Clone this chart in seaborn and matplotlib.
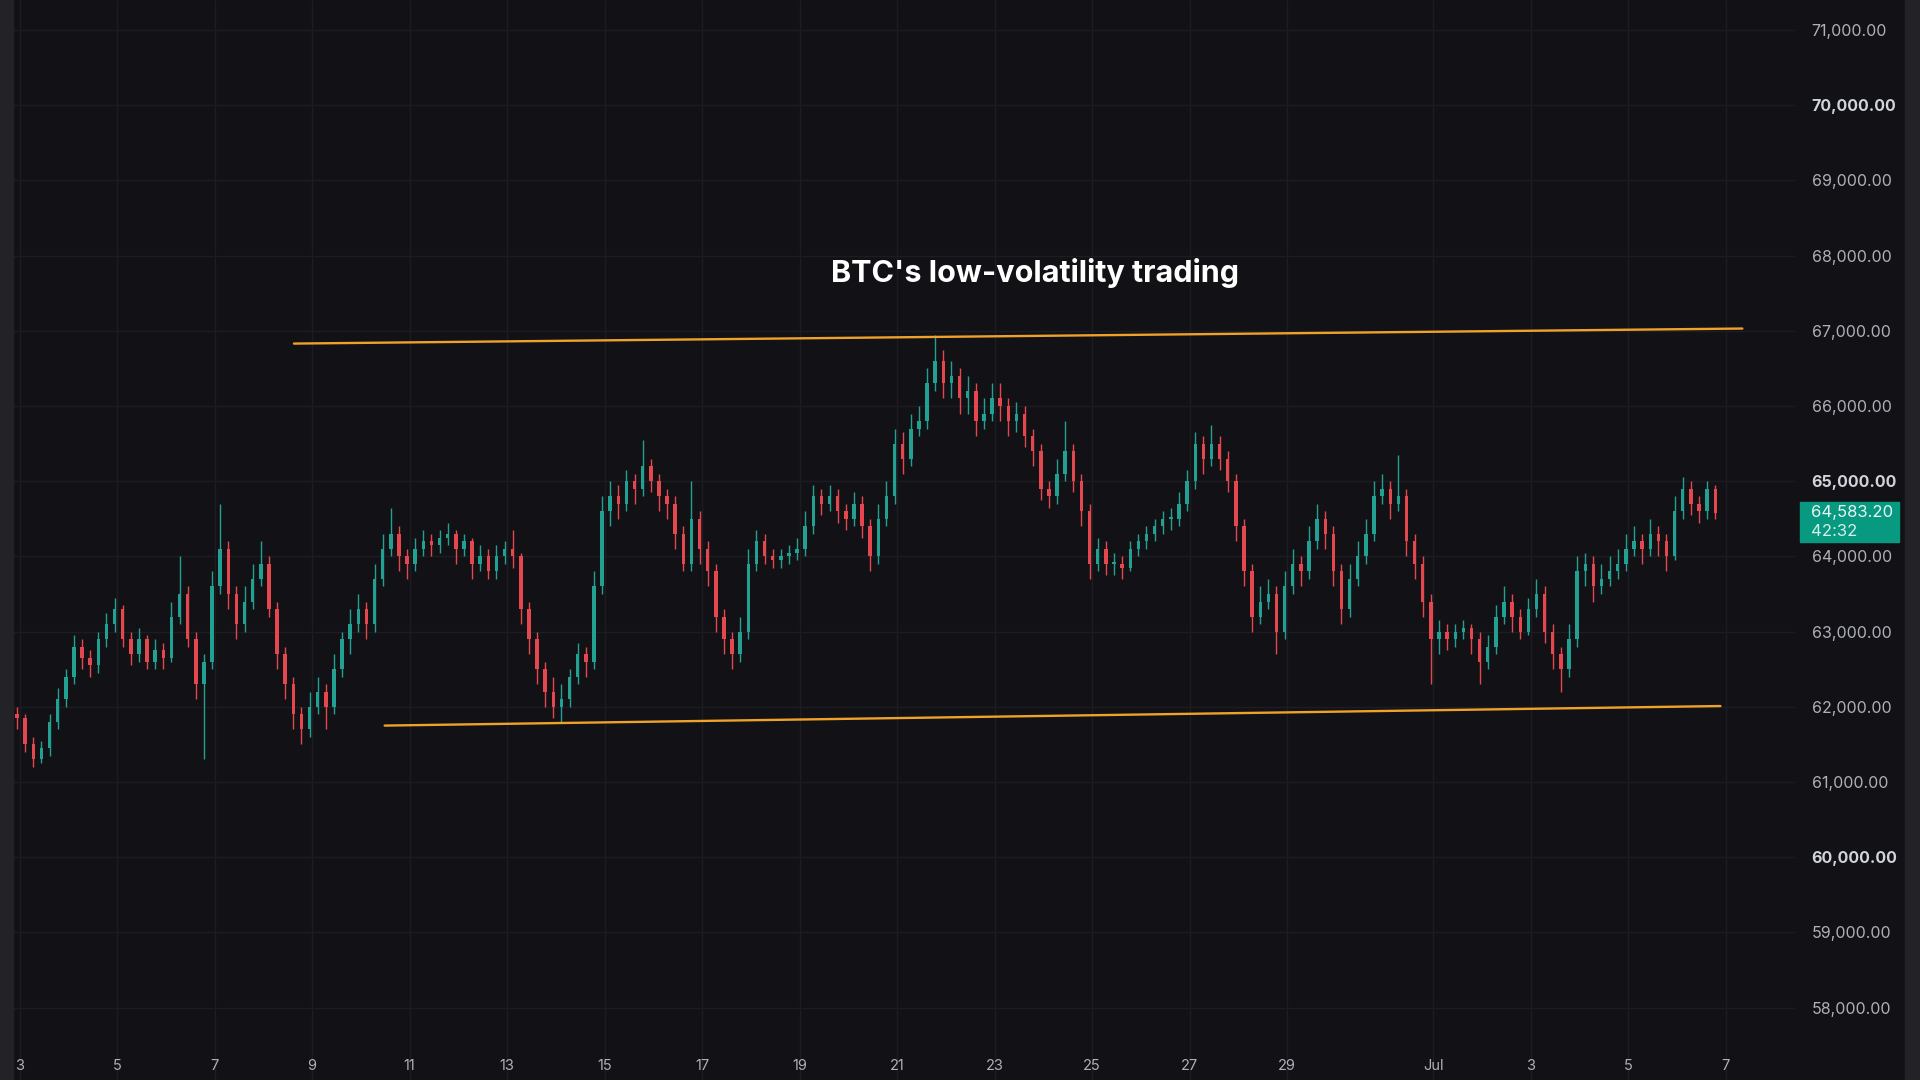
import numpy as np
import pandas as pd
import matplotlib
matplotlib.use("Agg")
import matplotlib.pyplot as plt
import seaborn as sns
from matplotlib.patches import Rectangle

# 4-hour BTC candles (open = previous close)
first_open = 61900
close = [61850, 61500, 61300, 61450, 61800, 62100, 62400, 62800, 62650, 62550,
         62900, 63100, 63300, 62900, 62700, 62900, 62600, 62750, 62650, 63200,
         63500, 62900, 62300, 62600, 63600, 64100, 63500, 63100, 63400, 63700,
         63900, 63300, 62700, 62300, 61900, 61700, 62000, 62200, 62000, 62500,
         62900, 63100, 63300, 63100, 63700, 64100, 64300, 64000, 63900, 64100,
         64200, 64150, 64250, 64300, 64100, 64200, 63900, 64000, 63800, 64000,
         64100, 64000, 63300, 62900, 62500, 62200, 62000, 62100, 62400, 62700,
         62600, 63600, 64600, 64800, 64700, 65000, 64900, 65200, 65000, 64800,
         64700, 64300, 63900, 64500, 64100, 63800, 63200, 62900, 62700, 63000,
         63900, 64200, 64000, 63950, 64000, 64050, 64100, 64400, 64800, 64700,
         64800, 64600, 64500, 64700, 64400, 64000, 64500, 64800, 65500, 65300,
         65700, 65800, 66300, 66600, 66300, 66400, 66100, 66200, 65800, 65900,
         66100, 66000, 65800, 65900, 65600, 65400, 64900, 64800, 65100, 65400,
         65000, 64600, 63900, 64100, 63900, 63900, 63850, 64100, 64200, 64300,
         64400, 64500, 64500, 64700, 65000, 65500, 65300, 65500, 65300, 65000,
         64400, 63800, 63200, 63400, 63500, 63000, 63600, 63900, 63800, 64200,
         64500, 64300, 63800, 63300, 63700, 64000, 64300, 64800, 64900, 64700,
         64800, 64200, 63900, 63400, 62900, 63000, 62900, 63000, 63050, 62900,
         62600, 62800, 63200, 63400, 63200, 63000, 63300, 63500, 63000, 62700,
         62500, 62900, 63800, 63900, 63600, 63700, 63800, 63900, 64100, 64200,
         64100, 64300, 64200, 64000, 64600, 64900, 64700, 64600, 64900, 64583.2]
high = [62000, 61900, 61600, 61550, 61900, 62250, 62500, 62950, 62900, 62750,
        63000, 63250, 63450, 63350, 63000, 63050, 62950, 62900, 62850, 63400,
        64000, 63600, 63000, 62700, 63800, 64700, 64200, 63600, 63600, 63900,
        64200, 64000, 63400, 62800, 62400, 62000, 62200, 62400, 62300, 62700,
        63000, 63300, 63500, 63400, 63900, 64300, 64650, 64400, 64100, 64250,
        64350, 64300, 64350, 64450, 64350, 64300, 64250, 64150, 64100, 64150,
        64200, 64350, 64050, 63400, 63000, 62600, 62400, 62300, 62500, 62850,
        62800, 63800, 64800, 65000, 64950, 65150, 65100, 65550, 65300, 65100,
        64900, 64800, 64400, 65000, 64600, 64200, 63900, 63300, 63000, 63200,
        64100, 64350, 64300, 64100, 64100, 64150, 64250, 64600, 64950, 64900,
        64950, 64900, 64700, 64850, 64800, 64500, 64700, 65000, 65700, 65650,
        65900, 66000, 66500, 66950, 66750, 66600, 66500, 66400, 66300, 66100,
        66300, 66300, 66100, 66050, 66000, 65700, 65500, 65000, 65300, 65800,
        65500, 65100, 64700, 64250, 64200, 64050, 64000, 64200, 64300, 64400,
        64500, 64600, 64650, 64850, 65150, 65650, 65600, 65750, 65600, 65400,
        65100, 64500, 63900, 63600, 63700, 63600, 63800, 64100, 64000, 64400,
        64700, 64600, 64400, 63900, 63900, 64200, 64500, 65000, 65100, 65000,
        65350, 64900, 64300, 64000, 63500, 63150, 63100, 63100, 63150, 63100,
        63000, 62950, 63350, 63600, 63500, 63300, 63450, 63700, 63600, 63100,
        62800, 63100, 64000, 64050, 64000, 63900, 64000, 64100, 64300, 64400,
        64300, 64500, 64400, 64300, 64800, 65050, 65000, 64800, 65000, 64950]
low = [61700, 61400, 61200, 61250, 61350, 61700, 62000, 62300, 62500, 62400,
       62450, 62800, 63000, 62800, 62550, 62600, 62500, 62500, 62500, 62600,
       63100, 62800, 62100, 61300, 62500, 63500, 63300, 62900, 63000, 63300,
       63600, 63200, 62500, 62100, 61700, 61500, 61600, 61900, 61700, 61900,
       62400, 62700, 63000, 62900, 63000, 63600, 64000, 63800, 63700, 63800,
       64000, 64000, 64050, 64150, 63900, 64000, 63700, 63800, 63700, 63700,
       63900, 63850, 63100, 62700, 62300, 62000, 61850, 61800, 62000, 62300,
       62400, 62500, 63500, 64400, 64500, 64600, 64700, 64800, 64850, 64600,
       64500, 64100, 63800, 63800, 63900, 63600, 63000, 62700, 62500, 62600,
       62900, 63800, 63900, 63850, 63850, 63900, 63950, 64000, 64300, 64550,
       64600, 64450, 64350, 64400, 64250, 63800, 63900, 64400, 64700, 65100,
       65200, 65600, 65700, 66200, 66100, 66100, 65900, 65900, 65600, 65700,
       65800, 65800, 65600, 65650, 65450, 65200, 64750, 64650, 64700, 65000,
       64850, 64400, 63700, 63800, 63750, 63750, 63700, 63800, 64000, 64100,
       64200, 64300, 64350, 64400, 64600, 64900, 65100, 65200, 65150, 64850,
       64200, 63600, 63000, 63100, 63300, 62700, 62900, 63500, 63600, 63700,
       64100, 64100, 63600, 63100, 63200, 63600, 63900, 64200, 64700, 64500,
       64600, 64000, 63700, 63200, 62300, 62700, 62750, 62800, 62900, 62700,
       62300, 62500, 62700, 63100, 63000, 62900, 62950, 63200, 62850, 62500,
       62200, 62400, 62800, 63600, 63400, 63500, 63600, 63700, 63800, 64000,
       63900, 64000, 64000, 63800, 63950, 64500, 64550, 64450, 64500, 64500]
start_day = 2.95
bars_per_day = 6

tick_days = [3, 5, 7, 9, 11, 13, 15, 17, 19, 21, 23, 25, 27, 29, 32, 34, 36, 38]
tick_labels = ["3", "5", "7", "9", "11", "13", "15", "17", "19", "21", "23",
               "25", "27", "29", "Jul", "3", "5", "7"]
price_ticks = [58000, 59000, 60000, 61000, 62000, 63000, 64000, 65000,
               66000, 67000, 68000, 69000, 70000, 71000]
bold_prices = [60000, 65000, 70000]

upper_days = [8.63, 38.34]
upper_prices = [66830, 67030]
lower_days = [10.49, 37.89]
lower_prices = [61750, 62010]

title = "BTC's low-volatility trading"
last_price = "64,583.20"
countdown = "42:32"

# colours
bg = "#121115"
strip = "#232327"
grid_c = "#1d1c22"
up_c = "#22a192"
down_c = "#e5474f"
line_c = "#f0a12a"
text_c = "#aeb1b9"

df = pd.DataFrame({"close": close, "high": high, "low": low})
df["open"] = [first_open] + close[:-1]
df["day"] = start_day + np.arange(len(df)) / bars_per_day
df["up"] = df["close"] >= df["open"]
df["color"] = np.where(df["up"], up_c, down_c)
df["body_lo"] = df[["open", "close"]].min(axis=1)
df["body_h"] = (df["close"] - df["open"]).abs().clip(lower=30)

sns.set_theme(style="dark")
plt.rcParams["font.family"] = ["Inter", "DejaVu Sans"]

fig = plt.figure(figsize=(19.2, 10.8), dpi=100, facecolor=bg)
ax = fig.add_axes([14 / 1920, 0, (1795 - 14) / 1920, 1])
ax.set_facecolor(bg)

ax.vlines(df["day"], df["low"], df["high"], colors=df["color"], lw=1.0, zorder=3)
ax.bar(df["day"], df["body_h"], bottom=df["body_lo"], width=0.42 / bars_per_day,
       color=df["color"], linewidth=0, zorder=4)

sns.lineplot(x=upper_days, y=upper_prices, ax=ax, color=line_c, lw=1.7, zorder=5)
sns.lineplot(x=lower_days, y=lower_prices, ax=ax, color=line_c, lw=1.7, zorder=5)

ax.set_xlim(2.887, 39.42)
ax.set_ylim(57037, 71399)
ax.set_xticks(tick_days)
ax.set_xticklabels(tick_labels)
ax.set_yticks(price_ticks)
ax.set_yticklabels([f"{p:,.2f}" for p in price_ticks])
ax.yaxis.tick_right()
ax.tick_params(axis="y", length=0, pad=12, labelsize=11.5, labelcolor=text_c)
ax.tick_params(axis="x", length=0, pad=-15, labelsize=10.5, labelcolor=text_c)
for lab, p in zip(ax.get_yticklabels(), price_ticks):
    if p in bold_prices:
        lab.set_fontweight("bold")
        lab.set_color("#d1d4dc")
ax.grid(True, color=grid_c, lw=1)
for s in ax.spines.values():
    s.set_visible(False)
ax.set_xlabel("")
ax.set_ylabel("")

fig.text(1035 / 1920, 1 - 273 / 1080, title, color="white", fontsize=22,
         fontweight="bold", ha="center", va="center")

# side strips and last price tag
fig.patches.append(Rectangle((0, 0), 13 / 1920, 1, transform=fig.transFigure,
                             color=strip, zorder=0))
fig.patches.append(Rectangle((1905 / 1920, 0), 15 / 1920, 1, transform=fig.transFigure,
                             color=strip, zorder=0))
fig.patches.append(Rectangle((1800 / 1920, 1 - 542 / 1080), 99 / 1920, 40 / 1080,
                             transform=fig.transFigure, color="#089981", zorder=6))
fig.text(1811 / 1920, 1 - 512 / 1080, last_price, color="#e8f5f2", fontsize=12,
         ha="left", va="center", zorder=7)
fig.text(1811 / 1920, 1 - 531 / 1080, countdown, color="#d5eeea", fontsize=12,
         ha="left", va="center", zorder=7)

fig.savefig("out.png", dpi=100, facecolor=bg)
